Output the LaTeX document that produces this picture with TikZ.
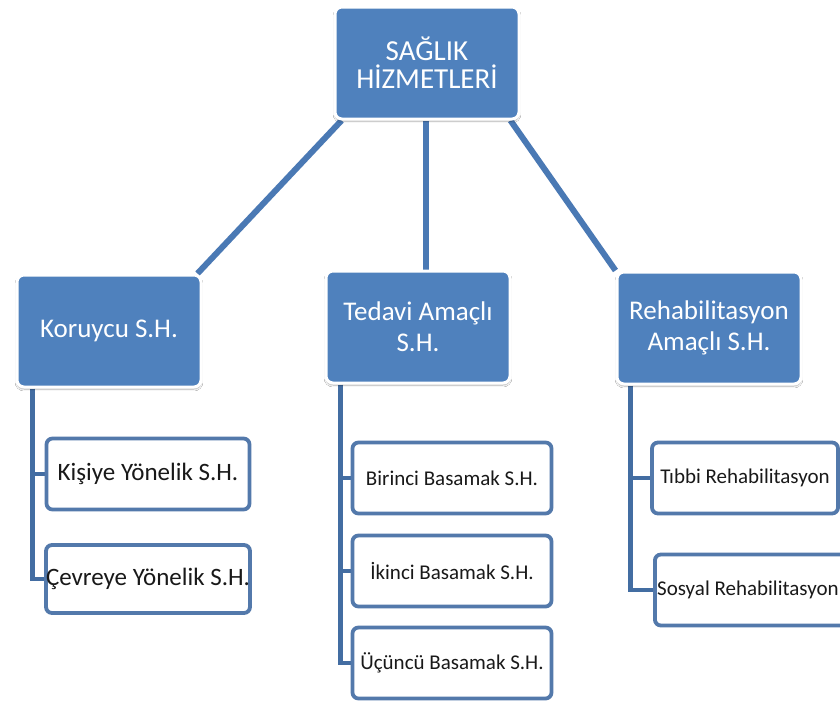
\documentclass[tikz,border=0pt]{standalone}
\usepackage{fontspec}
\setmainfont{Carlito}
\usetikzlibrary{positioning,calc,backgrounds,shadows.blur}

\definecolor{sagblue}{HTML}{4F81BD}
\definecolor{linkblue}{HTML}{4A79B4}
\definecolor{edgeblue}{HTML}{5379AB}

\tikzset{
  mainbox/.style={draw=white, line width=3pt, fill=sagblue, rounded corners=7pt,
    text=white, align=center, inner sep=0pt, minimum width=184pt, minimum height=112pt,
    blur shadow={shadow xshift=0pt, shadow yshift=-2pt, shadow blur steps=6, shadow opacity=35}},
  subbox/.style={draw=edgeblue, line width=3.8pt, fill=white, rounded corners=6pt,
    text=black!90, align=center, inner sep=0pt, minimum height=71pt},
  link/.style={draw=linkblue, line width=6pt},
  sublink/.style={draw=linkblue!90!black, line width=4.5pt}
}

\begin{document}
\begin{tikzpicture}[x=1pt,y=-1pt]
  \useasboundingbox (0,0) rectangle (840,702);
  \clip (0,0) rectangle (840,702);

  % Level 1 boxes
  \node[mainbox, font=\fontsize{29}{28}\selectfont] (top) at (427,63) {SAĞLIK\\HİZMETLERİ};
  \node[mainbox, font=\fontsize{27}{31}\selectfont] (kor) at (109,331) {Koruycu S.H.};
  \node[mainbox, font=\fontsize{27}{31}\selectfont] (ted) at (418,327) {Tedavi Amaçlı\\S.H.};
  \node[mainbox, font=\fontsize{27}{31}\selectfont] (reh) at (709,328) {Rehabilitasyon\\Amaçlı S.H.};

  % Children
  \node[subbox, minimum width=203pt, font=\fontsize{25}{28}\selectfont] (kis) at (148,474) {Kişiye Yönelik S.H.};
  \node[subbox, minimum width=203pt, minimum height=68pt, font=\fontsize{25}{28}\selectfont] (cev) at (148,579) {Çevreye Yönelik S.H.};
  \node[subbox, minimum width=199pt, font=\fontsize{21}{25}\selectfont] (bir) at (452,478) {Birinci Basamak S.H.};
  \node[subbox, minimum width=199pt, font=\fontsize{21}{25}\selectfont] (iki) at (452,571) {İkinci Basamak S.H.};
  \node[subbox, minimum width=199pt, font=\fontsize{21}{25}\selectfont] (ucu) at (452,663) {Üçüncü Basamak S.H.};
  \node[subbox, minimum width=186pt, font=\fontsize{21}{25}\selectfont] (tib) at (745,478) {Tıbbi Rehabilitasyon};
  \node[subbox, anchor=west, minimum width=220pt, font=\fontsize{21}{25}\selectfont] (sos) at (653,590) {};
  \node[anchor=west, inner sep=0pt, text=black!90, font=\fontsize{21}{25}\selectfont] (sostxt) at ([xshift=4pt]sos.west) {Sosyal Rehabilitasyon};

  % Connectors behind the boxes
  \begin{pgfonlayer}{background}
    \fill[white] (0,0) rectangle (840,702);
    \draw[link] ([xshift=8pt]top.south west) -- ([xshift=-5pt]kor.north east);
    \draw[link] ([xshift=-1pt]top.south) -- ([xshift=-1pt]top.south |- ted.north);
    \draw[link] ([xshift=-10pt]top.south east) -- (reh.north west);
    \draw[sublink] ([xshift=17pt]kor.south west) |- (kis.west);
    \draw[sublink] ([xshift=17pt]kor.south west) |- (cev.west);
    \draw[sublink] ([xshift=16pt]ted.south west) |- (bir.west);
    \draw[sublink] ([xshift=16pt]ted.south west) |- (iki.west);
    \draw[sublink] ([xshift=16pt]ted.south west) |- (ucu.west);
    \draw[sublink] ([xshift=15pt]reh.south west) |- (tib.west);
    \draw[sublink] ([xshift=15pt]reh.south west) |- (sos.west);
  \end{pgfonlayer}
\end{tikzpicture}
\end{document}
